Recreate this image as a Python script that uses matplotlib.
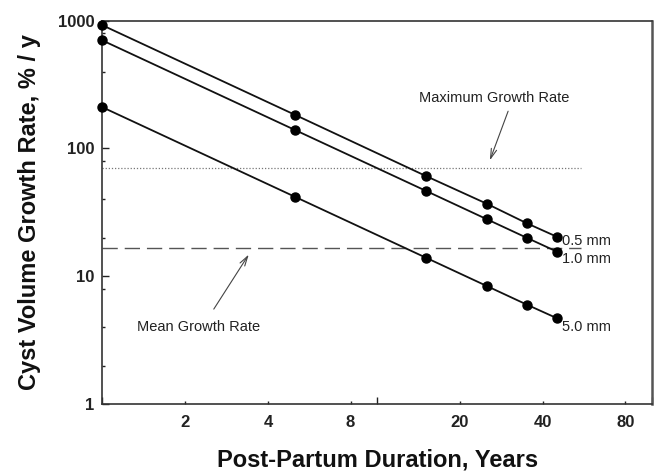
import matplotlib
matplotlib.use("Agg")
import matplotlib.pyplot as plt

plt.rcParams["font.family"] = ["Liberation Sans", "DejaVu Sans"]

# post-partum duration (years) and growth rate (% / y) per cyst size
years = [1, 5, 15, 25, 35, 45]
rate_05mm = [920, 184, 61, 37, 26, 20.4]
rate_10mm = [700, 140, 46.7, 28, 20, 15.6]
rate_50mm = [210, 42, 14, 8.4, 6.0, 4.7]
series_labels = ["0.5 mm", "1.0 mm", "5.0 mm"]

max_growth_rate = 70
mean_growth_rate = 16.6
ref_span = [1, 55]

x_labeled = [2, 4, 8, 20, 40, 80]
y_minor = [2, 4, 8, 20, 40, 80, 200, 400, 800]
y_major = [1, 10, 100, 1000]

fig = plt.figure(figsize=(6.62, 4.75), dpi=100)
ax = fig.add_axes([0.1548, 0.1495, 0.830, 0.807])
ax.set_xscale("log")
ax.set_yscale("log")
ax.set_xlim(1, 100)
ax.set_ylim(1, 1000)

ax.plot(ref_span, [max_growth_rate] * 2, color="#777777", linestyle=(0, (1, 1.5)), linewidth=0.9)
ax.plot(ref_span, [mean_growth_rate] * 2, color="#555555", linestyle=(0, (11, 5)), linewidth=1.0)

offsets = [(5, -4), (5, -7), (5, -9)]
for vals, lab, off in zip([rate_05mm, rate_10mm, rate_50mm], series_labels, offsets):
    ax.plot(years, vals, color="#111111", linewidth=1.3, marker="o", markersize=6.5,
            markerfacecolor="black", markeredgecolor="black", clip_on=False, zorder=3)
    ax.annotate(lab, xy=(years[-1], vals[-1]), xytext=off, textcoords="offset pixels",
                ha="left", va="center", fontsize=10.5, color="#222222")

arrow = dict(arrowstyle="->,head_length=0.7,head_width=0.2", color="#444444", linewidth=0.8)
ax.text(26.6, 249, "Maximum Growth Rate", ha="center", va="center", fontsize=10.5, color="#222222")
ax.annotate("", xy=(25.5, 77), xytext=(30.2, 205), arrowprops=arrow)
ax.text(2.23, 4.0, "Mean Growth Rate", ha="center", va="center", fontsize=10.5, color="#222222")
ax.annotate("", xy=(3.45, 15.4), xytext=(2.51, 5.3), arrowprops=arrow)

ax.set_xticks([1, 10, 100], labels=["", "", ""])
ax.set_xticks(x_labeled, labels=[str(v) for v in x_labeled], minor=True)
ax.set_yticks(y_major, labels=[str(v) for v in y_major])
ax.set_yticks(y_minor, labels=[""] * len(y_minor), minor=True)
ax.tick_params(which="both", direction="in", colors="#222222", width=1.0)
ax.tick_params(which="major", length=5)
ax.tick_params(which="minor", length=2.5)
ax.tick_params(axis="x", which="both", pad=8)
ax.tick_params(axis="y", which="both", pad=6)
for lbl in ax.get_xticklabels(minor=True) + ax.get_yticklabels():
    lbl.set_fontsize(12)
    lbl.set_fontweight("bold")
    lbl.set_color("#222222")

for side in ["left", "bottom", "top", "right"]:
    ax.spines[side].set_linewidth(1.2)
    ax.spines[side].set_color("#333333")
ax.spines["right"].set_linewidth(1.8)
ax.spines["right"].set_color("#555555")

ax.set_xlabel("Post-Partum Duration, Years", fontsize=17, fontweight="bold", color="#111111", labelpad=13)
ax.set_ylabel("Cyst Volume Growth Rate, % / y", fontsize=17, fontweight="bold", color="#111111", labelpad=12)

fig.savefig("out.png", dpi=100)
plt.close(fig)
